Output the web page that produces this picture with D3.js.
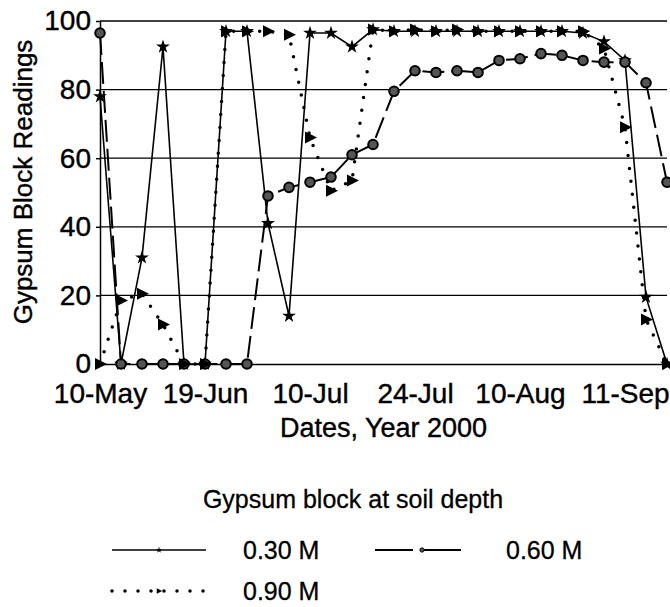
<!DOCTYPE html>
<html>
<head>
    <title>Gypsum block readings, 2000</title>
    <meta charset="utf-8" />
    <script src="https://cdn.jsdelivr.net/npm/d3@7"></script>
    <style>
        body {
            padding: 0;
            margin: 0;
            background: #fff;
        }
        svg {
            display: block;
            font-family: "Liberation Sans", Arial, sans-serif;
        }
        .grid line {
            stroke: #000;
            stroke-width: 1.3px;
        }
        .axis path,
        .axis line {
            stroke: #000;
            stroke-width: 1.5px;
        }
        .axis text {
            font-size: 28px;
            fill: #000;
            stroke: #000;
            stroke-width: 0.4px;
        }
        .title {
            font-size: 27px;
            fill: #000;
            stroke: #000;
            stroke-width: 0.4px;
        }
        .legend text {
            font-size: 25px;
            fill: #000;
            stroke: #000;
            stroke-width: 0.3px;
        }
    </style>
</head>
<body>
    <svg id="chart" width="670" height="607"></svg>

    <script>

// readings were taken at evenly spaced visits, only some are labelled
var tickLabels = ["10-May", "19-Jun", "10-Jul", "24-Jul", "10-Aug", "11-Sep"];
var tickIndex = [0, 5, 10, 15, 20, 25];

var depth30 = [78, 0, 31, 92.5, 0, 0, 97, 97, 41, 14, 96.5, 96.5, 92.5, 97.5,
               97, 97, 97, 97, 97, 97, 97, 97, 97, 96.5, 94, 88.5, 19.5, 0];
var depth60 = [96.5, 0, 0, 0, 0, 0, 0, 0, 49, 51.5, 53, 54.5, 61, 64,
               79.5, 85.5, 85, 85.5, 85, 88.5, 89, 90.5, 90, 88.5, 88, 88, 82, 53];
var depth90 = [0, 18.5, 20.5, 11.5, 0, 0, 97, 97, 97, 96, 66, 50.5, 53.5, 97.5,
               97, 97.5, 97, 97.5, 97, 97, 97, 97, 97, 97, 92, 69, 13, 0];

var seriesNames = ["0.30 M", "0.60 M", "0.90 M"];
var yTicks = [0, 20, 40, 60, 80, 100];

var svg = d3.select("#chart");

var plotLeft = 100, plotRight = 667, plotTop = 21, plotBottom = 364;

var x = d3.scalePoint()
    .domain(d3.range(depth30.length))
    .range([plotLeft, plotRight]);
var y = d3.scaleLinear()
    .domain([0, 100])
    .range([plotBottom, plotTop]);

// horizontal gridlines
svg.append("g")
    .attr("class", "grid")
  .selectAll("line")
  .data(yTicks.slice(1))
  .join("line")
    .attr("x1", plotLeft)
    .attr("x2", plotRight)
    .attr("y1", function(d) { return y(d); })
    .attr("y2", function(d) { return y(d); });

svg.append("g")
    .attr("class", "axis")
    .attr("transform", "translate(" + plotLeft + ",0)")
    .call(d3.axisLeft(y).tickValues(yTicks).tickSize(4).tickSizeOuter(0).tickPadding(5));

svg.append("g")
    .attr("class", "axis")
    .attr("transform", "translate(0," + plotBottom + ")")
    .call(d3.axisBottom(x)
        .tickValues(tickIndex)
        .tickFormat(function(d, i) { return tickLabels[i]; })
        .tickSize(0)
        .tickSizeOuter(0)
        .tickPadding(19));

svg.append("text")
    .attr("class", "title")
    .attr("text-anchor", "middle")
    .attr("x", (plotLeft + plotRight) / 2)
    .attr("y", 437)
    .text("Dates, Year 2000");

svg.append("text")
    .attr("class", "title")
    .attr("text-anchor", "middle")
    .attr("transform", "translate(32," + 182 + ") rotate(-90)")
    .style("font-size", "26px")
    .text("Gypsum Block Readings");

var trianglePath = "M-5,-6L7,0L-5,6Z";

var series = [
  { name: seriesNames[0], values: depth30, width: 1.6, dash: null, cap: "butt" },
  { name: seriesNames[1], values: depth60, width: 2, dash: "22,7", cap: "butt" },
  { name: seriesNames[2], values: depth90, width: 3.5, dash: "0,13", cap: "round" }
];

var line = d3.line()
    .x(function(d, i) { return x(i); })
    .y(function(d) { return y(d); });

svg.append("g").selectAll("path")
  .data(series)
  .join("path")
    .attr("fill", "none")
    .attr("stroke", "#000")
    .attr("stroke-width", function(d) { return d.width; })
    .attr("stroke-dasharray", function(d) { return d.dash; })
    .attr("stroke-linecap", function(d) { return d.cap; })
    .attr("d", function(d) { return line(d.values); });

function drawMarkers(g, s, size) {
  var k = size || 1;
  if (s.name === seriesNames[0]) {
    g.append("path").attr("d", d3.symbol().type(d3.symbolStar).size(60 * k * k)()).attr("fill", "#000");
  } else if (s.name === seriesNames[1]) {
    g.append("circle").attr("r", 4.8 * k).attr("fill", "#555")
        .attr("stroke", "#000").attr("stroke-width", 2 * k);
  } else {
    g.append("path").attr("d", trianglePath).attr("fill", "#000")
        .attr("transform", "scale(" + k + ")");
  }
}

series.forEach(function(s) {
  svg.append("g").selectAll("g")
    .data(s.values)
    .join("g")
      .attr("transform", function(d, i) { return "translate(" + x(i) + "," + y(d) + ")"; })
      .each(function() { drawMarkers(d3.select(this), s); });
});

// legend
var legend = svg.append("g").attr("class", "legend");

legend.append("text")
    .attr("x", 353)
    .attr("y", 508)
    .attr("text-anchor", "middle")
    .text("Gypsum block at soil depth");

var legendPos = [[112, 550], [375, 550], [112, 591]];

series.forEach(function(s, i) {
  var p = legendPos[i];
  var item = legend.append("g").attr("transform", "translate(" + p[0] + "," + p[1] + ")");
  item.append("line")
      .attr("x1", 0).attr("x2", 94)
      .attr("stroke", "#000")
      .attr("stroke-width", s.width)
      .attr("stroke-dasharray", s.dash === "0,13" ? s.dash : (s.dash ? "38,10" : null))
      .attr("stroke-linecap", s.cap);
  drawMarkers(item.append("g").attr("transform", "translate(47,0)"), s, 0.45);
  item.append("text")
      .attr("x", 131)
      .attr("y", 9)
      .text(s.name);
});

    </script>
</body>
</html>
